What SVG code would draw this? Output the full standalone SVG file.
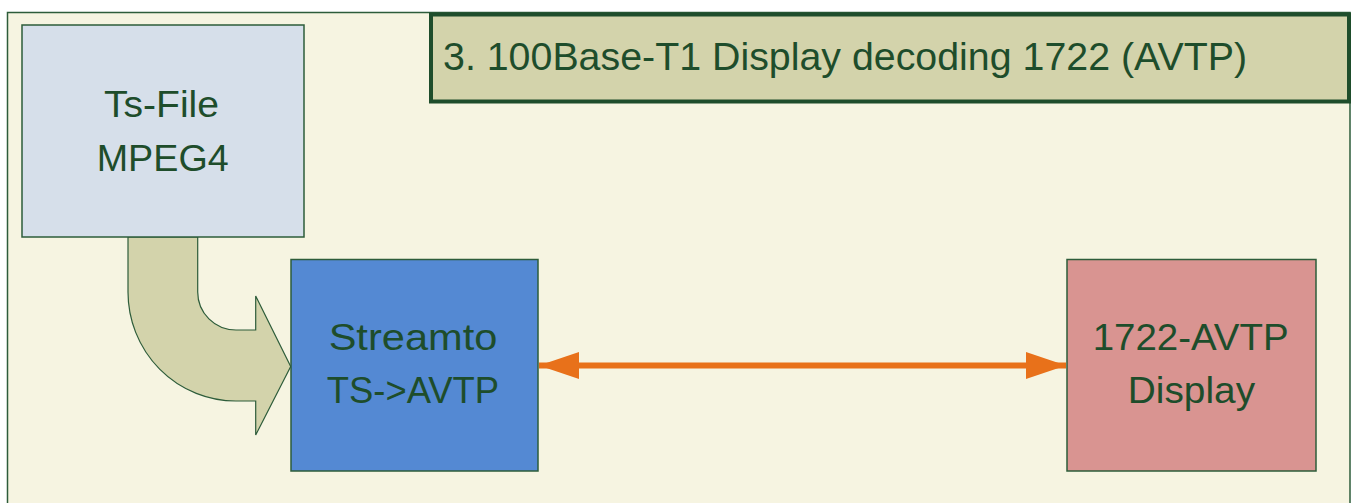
<svg xmlns="http://www.w3.org/2000/svg" width="1359" height="503" viewBox="0 0 1359 503">
  <defs>
    <style>
      .lbl { font-family: "Liberation Sans", Arial, sans-serif; fill: #1E4D2B; text-anchor: middle; }
      .box { stroke: #2D5C3A; stroke-width: 1.5; }
    </style>
    <marker id="oh" markerUnits="userSpaceOnUse" markerWidth="40" markerHeight="27" refX="40" refY="13.5" orient="auto-start-reverse">
      <path d="M0,0 L40,13.5 L0,27 Z" fill="#E8711A"/>
    </marker>
  </defs>
  <rect x="0" y="0" width="1359" height="503" fill="#FFFFFF"/>
  <rect id="frame" x="7.5" y="12.5" width="1342.5" height="500" fill="#F6F4E1" stroke="#2D5C3A" stroke-width="1.5"/>

  <g id="title">
    <rect x="431" y="14.5" width="918" height="87" fill="#D3D3AB" stroke="#1E4D2B" stroke-width="4"/>
    <text x="443" y="69.5" font-family="Liberation Sans, Arial, sans-serif" font-size="38.5" fill="#1E4D2B" textLength="804" lengthAdjust="spacingAndGlyphs">3. 100Base-T1 Display decoding 1722 (AVTP)</text>
  </g>

  <g id="connectors">
    <path d="M128,237 L128,292 A108,109 0 0 0 236,401 L255.7,401 L255.7,435 L290.7,366.5 L255.7,296 L255.7,330 L236,330 A38.3,38 0 0 1 197.7,292 L197.7,237 Z" fill="#D3D3AB" stroke="#2D5C3A" stroke-width="1.2"/>
    <line x1="539" y1="365.5" x2="1066" y2="365.5" stroke="#E8711A" stroke-width="6" marker-start="url(#oh)" marker-end="url(#oh)"/>
  </g>

  <g id="tsfile">
    <rect class="box" x="22" y="25" width="282" height="212" fill="#D6DFEA"/>
    <text class="lbl" x="161.5" y="116.7" font-size="37" textLength="115" lengthAdjust="spacingAndGlyphs">Ts-File</text>
    <text class="lbl" x="162.7" y="171" font-size="37" textLength="132" lengthAdjust="spacingAndGlyphs">MPEG4</text>
  </g>

  <g id="streamto">
    <rect class="box" x="291" y="259.5" width="247" height="211.5" fill="#5489D3"/>
    <text class="lbl" x="413" y="350" font-size="37" textLength="168.7" lengthAdjust="spacingAndGlyphs">Streamto</text>
    <text class="lbl" x="412.9" y="403.3" font-size="37" textLength="172.3" lengthAdjust="spacingAndGlyphs">TS-&gt;AVTP</text>
  </g>

  <g id="display">
    <rect class="box" x="1067" y="259.5" width="249" height="211.5" fill="#D99491"/>
    <text class="lbl" x="1190.7" y="350" font-size="37" textLength="196" lengthAdjust="spacingAndGlyphs">1722-AVTP</text>
    <text class="lbl" x="1191.4" y="403.3" font-size="37" textLength="127.3" lengthAdjust="spacingAndGlyphs">Display</text>
  </g>
</svg>
